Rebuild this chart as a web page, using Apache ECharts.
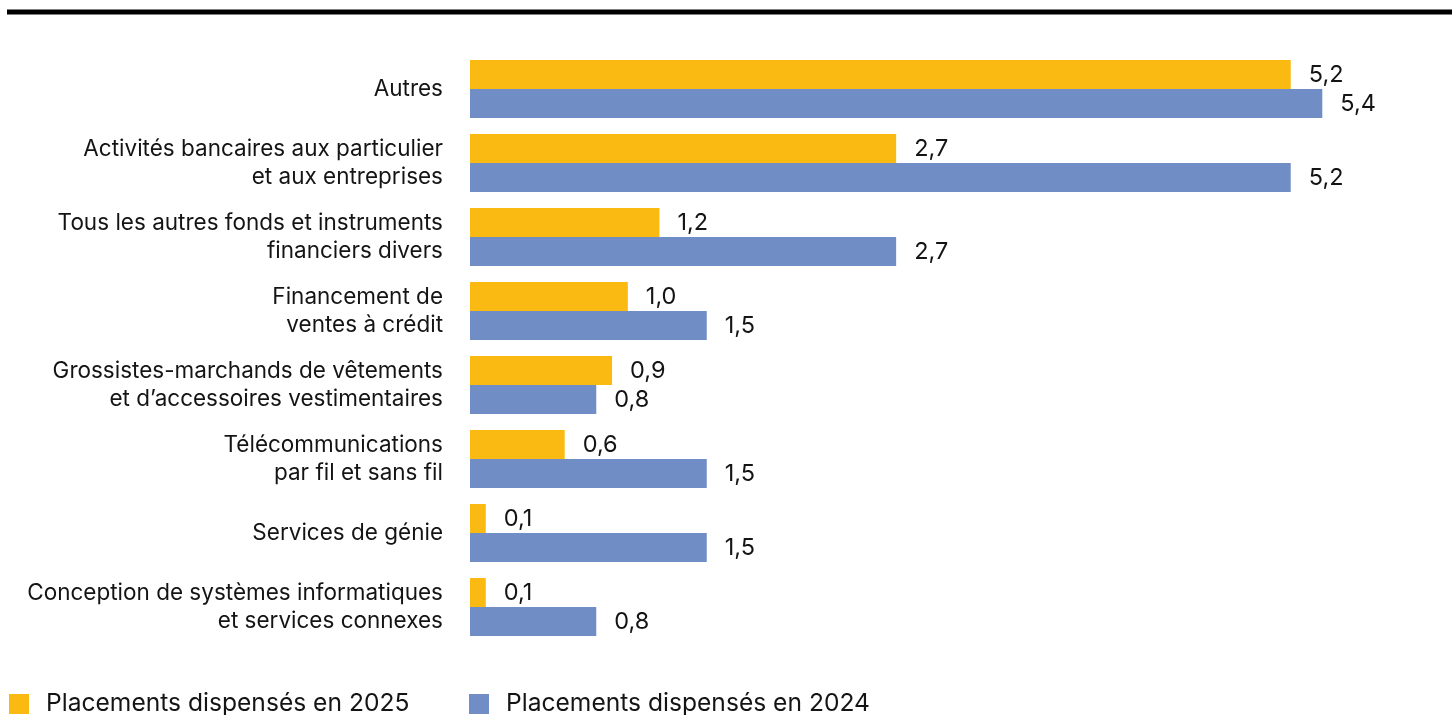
<!DOCTYPE html>
<html>
<head>
<meta charset="utf-8">
<script src="https://cdn.jsdelivr.net/npm/echarts@6/dist/echarts.min.js"></script>
<style>
  html, body { margin: 0; padding: 0; background: #ffffff; }
  #chart { width: 1452px; height: 715px; }
</style>
</head>
<body>
<div id="chart"></div>
<script>
// Sectors, top to bottom
const categories = [
  'Autres',
  'Activités bancaires aux particulier\net aux entreprises',
  'Tous les autres fonds et instruments\nfinanciers divers',
  'Financement de\nventes à crédit',
  'Grossistes-marchands de vêtements\net d’accessoires vestimentaires',
  'Télécommunications\npar fil et sans fil',
  'Services de génie',
  'Conception de systèmes informatiques\net services connexes'
];
const seriesNames = ['Placements dispensés en 2025', 'Placements dispensés en 2024'];
const values2025 = [5.2, 2.7, 1.2, 1.0, 0.9, 0.6, 0.1, 0.1];
const values2024 = [5.4, 5.2, 2.7, 1.5, 0.8, 1.5, 1.5, 0.8];

const YELLOW = '#FBBA12';
const BLUE = '#708DC6';
const TEXT = '#141414';
const FONT = 'Inter, "Noto Sans", sans-serif';

const chart = echarts.init(document.getElementById('chart'), null, { renderer: 'canvas' });

const valueLabel = {
  show: true,
  position: 'right',
  distance: 18,
  color: TEXT,
  fontFamily: FONT,
  fontSize: 23.5,
  formatter: p => p.value.toFixed(1).replace('.', ',')
};

const legendText = {
  fontSize: 24.6,
  lineHeight: 26,
  color: TEXT,
  fontFamily: FONT,
  padding: [0, 0, 0, 12]
};

chart.setOption({
  animation: false,
  textStyle: { fontFamily: FONT },
  graphic: [{
    type: 'line',
    shape: { x1: 7, y1: 12, x2: 1452, y2: 12 },
    style: { stroke: '#000000', lineWidth: 5 }
  }],
  legend: [
    {
      data: [seriesNames[0]],
      left: 9, top: 691, padding: 0,
      itemWidth: 20, itemHeight: 20,
      icon: 'rect',
      textStyle: legendText
    },
    {
      data: [seriesNames[1]],
      left: 469, top: 691, padding: 0,
      itemWidth: 20, itemHeight: 20,
      icon: 'rect',
      textStyle: legendText
    }
  ],
  grid: { left: 470, right: 35, top: 52, bottom: 71, containLabel: false },
  xAxis: {
    type: 'value',
    min: 0, max: 6,
    show: false
  },
  yAxis: {
    type: 'category',
    data: categories,
    inverse: true,
    axisLine: { show: false },
    axisTick: { show: false },
    axisLabel: {
      margin: 27,
      color: TEXT,
      fontFamily: FONT,
      fontSize: 22.5,
      lineHeight: 28,
      align: 'right'
    }
  },
  series: [
    {
      name: seriesNames[0],
      type: 'bar',
      data: values2025,
      barWidth: 29,
      barGap: '0%',
      itemStyle: { color: YELLOW },
      label: valueLabel
    },
    {
      name: seriesNames[1],
      type: 'bar',
      data: values2024,
      barWidth: 29,
      barGap: '0%',
      itemStyle: { color: BLUE },
      label: valueLabel
    }
  ]
});
</script>
</body>
</html>
